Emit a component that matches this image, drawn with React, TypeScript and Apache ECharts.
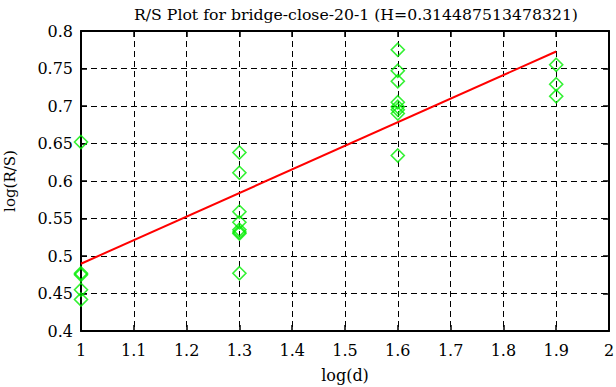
import React, { useEffect, useRef } from "react";
import * as echarts from "echarts";

const titleText = "R/S Plot for bridge-close-20-1 (H=0.314487513478321)";
const xName = "log(d)";
const yName = "log(R/S)";

const dValues = [1, 1.3, 1.6, 1.9];
const rsAt1 = [0.652, 0.477, 0.475, 0.455, 0.442];
const rsAt13 = [0.638, 0.611, 0.559, 0.545, 0.535, 0.532, 0.53, 0.477];
const rsAt16 = [0.775, 0.747, 0.733, 0.705, 0.699, 0.695, 0.69, 0.634];
const rsAt19 = [0.755, 0.729, 0.713];
const rsGroups = [rsAt1, rsAt13, rsAt16, rsAt19];

const fitX = [1, 1.9];
const fitY = [0.4897, 0.7727];

const FONT = "DejaVu Serif";

export default function App() {
  const ref = useRef<HTMLDivElement>(null);
  useEffect(() => {
    if (!ref.current) return;
    const chart = echarts.init(ref.current, undefined, { renderer: "svg" });
    const scatterData: number[][] = [];
    dValues.forEach((d, i) => rsGroups[i].forEach((v) => scatterData.push([d, v])));
    const fitData = fitX.map((x, i) => [x, fitY[i]]);
    const dashed = { show: true, lineStyle: { color: "#000", type: [6, 4] as any, width: 1 } };
    const axisLine = { show: true, lineStyle: { color: "#000", width: 2 } };
    const tick = { show: true, inside: true, length: 6, lineStyle: { color: "#000", width: 1.5 } };
    chart.setOption({
      animation: false,
      backgroundColor: "#fff",
      title: {
        text: titleText,
        left: 351,
        textAlign: "center",
        top: 1,
        textStyle: { fontFamily: FONT, fontSize: 15.7, fontWeight: "normal", color: "#000" },
      },
      grid: {
        left: 81,
        right: 7,
        top: 31,
        bottom: 56,
        containLabel: false,
        outerBoundsMode: "none",
      } as any,
      xAxis: [
        {
          type: "value",
          min: 1,
          max: 2,
          interval: 0.1,
          name: xName,
          nameLocation: "middle",
          nameGap: 36,
          nameTextStyle: { fontFamily: FONT, fontSize: 16, color: "#000" },
          axisLine,
          axisTick: tick,
          axisLabel: { fontFamily: FONT, fontSize: 16, color: "#000", margin: 11 },
          splitLine: dashed,
        },
        {
          type: "value",
          position: "top",
          min: 1,
          max: 2,
          interval: 0.1,
          axisLine,
          axisTick: tick,
          axisLabel: { show: false },
          splitLine: { show: false },
        },
      ],
      yAxis: [
        {
          type: "value",
          min: 0.4,
          max: 0.8,
          interval: 0.05,
          name: yName,
          nameLocation: "middle",
          nameGap: 64,
          nameRotate: 90,
          nameTextStyle: { fontFamily: FONT, fontSize: 15, color: "#000" },
          axisLine,
          axisTick: tick,
          axisLabel: { fontFamily: FONT, fontSize: 16, color: "#000", margin: 8 },
          splitLine: dashed,
        },
        {
          type: "value",
          position: "right",
          min: 0.4,
          max: 0.8,
          interval: 0.05,
          axisLine,
          axisTick: tick,
          axisLabel: { show: false },
          splitLine: { show: false },
        },
      ],
      series: [
        {
          type: "line",
          data: fitData,
          showSymbol: false,
          symbol: "none",
          lineStyle: { color: "#ff0000", width: 2 },
          z: 2,
        },
        {
          type: "scatter",
          data: scatterData,
          symbol: "diamond",
          symbolSize: 13,
          itemStyle: { color: "rgba(0,0,0,0)", borderColor: "#00ee00", borderWidth: 1.6 },
          z: 3,
        },
      ],
    });
    return () => chart.dispose();
  }, []);
  return (
    <div
      ref={ref}
      style={{ position: "fixed", left: 0, top: 0, width: 616, height: 387, background: "#fff" }}
    />
  );
}
